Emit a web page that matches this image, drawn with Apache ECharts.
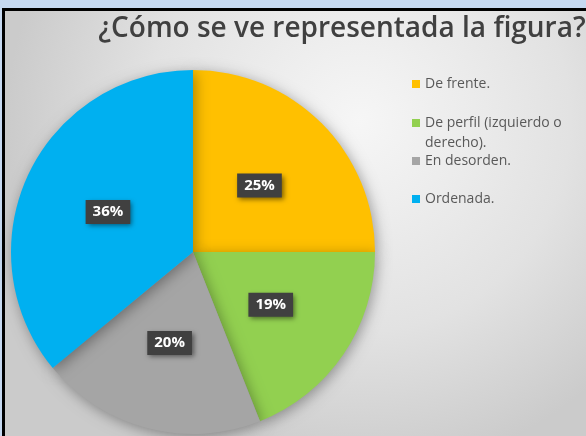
<!DOCTYPE html>
<html>
<head>
<meta charset="utf-8">
<style>html,body{margin:0;padding:0;background:#c6d9f1;}#c{width:586px;height:436px;}</style>
<script src="https://cdn.jsdelivr.net/npm/echarts@6/dist/echarts.min.js"></script>
</head>
<body>
<div id="c"></div>
<script>
const categories = ['De frente.', 'De perfil (izquierdo o derecho).', 'En desorden.', 'Ordenada.'];
const values = [25, 19, 20, 36];
const colors = ['#FFC000', '#92D050', '#A5A5A5', '#00B0F0'];
const titleText = '¿Cómo se ve representada la figura?';

const chart = echarts.init(document.getElementById('c'), null, {renderer: 'canvas'});
const legendTops = [74, 93, 151, 189];
const legends = categories.map((name, i) => ({
  data: [name],
  orient: 'vertical',
  left: 412,
  top: legendTops[i],
  padding: 0,
  icon: 'rect',
  itemWidth: 8,
  itemHeight: 8,
  selectedMode: false,
  formatter: n => (i === 1 ? '\n' + n.replace(' derecho', '\nderecho') : n),
  textStyle: {fontFamily: 'Open Sans', fontSize: 14, color: '#595959', lineHeight: 20}
}));

chart.setOption({
  animation: false,
  graphic: [
    {type: 'rect', z: -10, shape: {x: 2, y: 8, width: 590, height: 440}, style: {fill: '#000'}},
    {type: 'rect', z: -9, shape: {x: 5, y: 11, width: 590, height: 440},
     style: {fill: new echarts.graphic.RadialGradient(0.6, 0.25, 0.8, [
       {offset: 0, color: '#f6f6f6'}, {offset: 0.6, color: '#e2e2e2'}, {offset: 1, color: '#cbcbcb'}])}}
  ],
  title: {
    text: titleText,
    left: 337, top: 10, textAlign: 'center',
    textStyle: {fontFamily: 'Open Sans', fontWeight: 600, fontSize: 28, color: '#404040'}
  },
  legend: legends,
  series: [{
    type: 'pie',
    center: [193, 252],
    radius: 182,
    startAngle: 90,
    clockwise: true,
    data: categories.map((n, i) => ({name: n, value: values[i], itemStyle: {color: colors[i]}})),
    itemStyle: {shadowBlur: 14, shadowColor: 'rgba(0,0,0,0.35)', shadowOffsetX: 2, shadowOffsetY: 3},
    label: {
      position: 'inside',
      formatter: '{c}%',
      color: '#fff',
      fontFamily: 'Open Sans',
      fontWeight: 'bold',
      fontSize: 15,
      backgroundColor: '#404040',
      padding: [5, 7, 4, 7],
      shadowBlur: 5, shadowColor: 'rgba(0,0,0,0.5)', shadowOffsetX: 2, shadowOffsetY: 2,
      textShadowColor: 'transparent'
    },
    labelLine: {show: false},
    emphasis: {disabled: true}
  }]
});
</script>
</body>
</html>
